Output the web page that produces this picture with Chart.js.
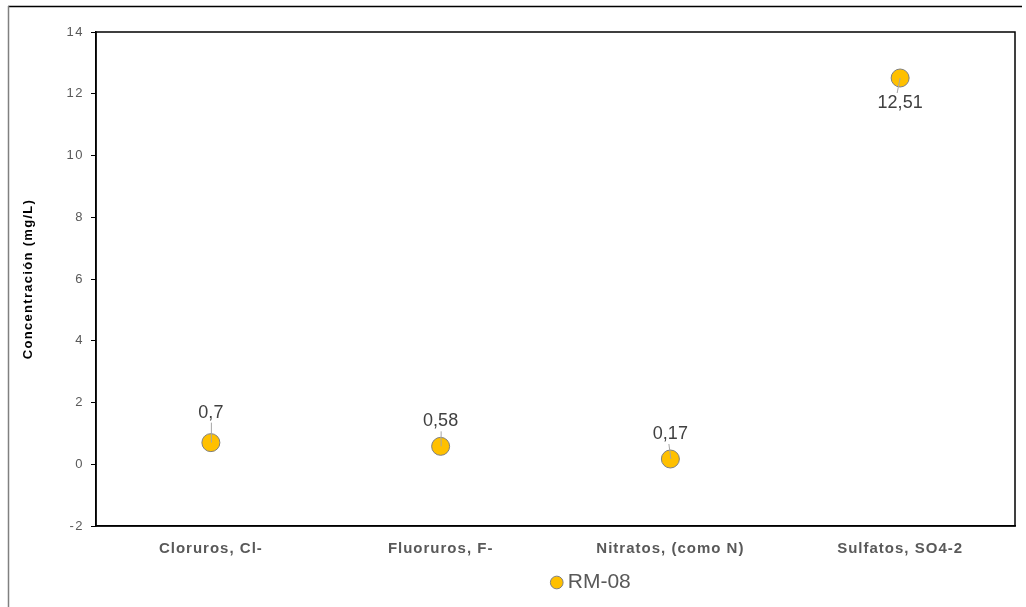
<!DOCTYPE html>
<html>
<head>
<meta charset="utf-8">
<script src="https://cdn.jsdelivr.net/npm/chart.js@4/dist/chart.umd.min.js"></script>
<style>
  html, body { margin: 0; padding: 0; background: #ffffff; }
  #wrap { width: 1026px; height: 607px; position: relative; }
</style>
</head>
<body>
<div id="wrap"><canvas id="c" width="1026" height="607"></canvas></div>
<script>
// Parameters measured at station RM-08
const categories = ['Cloruros, Cl-', 'Fluoruros, F-', 'Nitratos, (como N)', 'Sulfatos, SO4-2'];
const values = [0.7, 0.58, 0.17, 12.51];
const valueLabels = ['0,7', '0,58', '0,17', '12,51'];
const labelAbove = [true, true, true, false];
const seriesName = 'RM-08';
const yTicks = [-2, 0, 2, 4, 6, 8, 10, 12, 14];

const FONT = "'Liberation Sans', Arial, sans-serif";

// Wider character spacing for axis text
const axisSpacing = { x: '1px', y: '1.5px' };
const titleSpacing = '1.3px';

function withSpacing(fn, spacing) {
  return function (...args) {
    const ctx = this.ctx;
    const prev = ctx.letterSpacing;
    ctx.letterSpacing = spacing;
    fn.apply(this, args);
    ctx.letterSpacing = prev;
  };
}

const spacingPlugin = {
  id: 'axisSpacing',
  beforeLayout(chart) {
    Object.keys(axisSpacing).forEach(id => {
      const scale = chart.scales[id];
      if (!scale || scale._spaced) return;
      scale.drawLabels = withSpacing(scale.drawLabels, axisSpacing[id]);
      scale.drawTitle = withSpacing(scale.drawTitle, titleSpacing);
      scale._spaced = true;
    });
  },
  afterLayout(chart) {
    // legend sits under the right-hand half of the plot
    if (chart.legend) {
      chart.legend.left += 86;
      chart.legend.right += 86;
    }
  }
};

// Box around the plot area plus the outer chart frame
const framePlugin = {
  id: 'frame',
  beforeDraw(chart) {
    const ctx = chart.ctx;
    ctx.save();
    ctx.strokeStyle = '#000000';
    ctx.lineWidth = 1.5;
    ctx.beginPath();
    ctx.moveTo(8, 6.5);
    ctx.lineTo(1022, 6.5);
    ctx.stroke();
    ctx.strokeStyle = '#808080';
    ctx.beginPath();
    ctx.moveTo(8.5, 6);
    ctx.lineTo(8.5, 607);
    ctx.stroke();
    ctx.restore();
  },
  afterDatasetsDraw(chart) {
    const a = chart.chartArea;
    const ctx = chart.ctx;
    ctx.save();
    ctx.strokeStyle = '#000000';
    ctx.lineWidth = 1.5;
    ctx.strokeRect(a.left, a.top, a.right - a.left, a.bottom - a.top);
    ctx.restore();
  }
};

// Value labels with short leader lines
const valueLabelPlugin = {
  id: 'valueLabels',
  afterDatasetsDraw(chart) {
    const ctx = chart.ctx;
    const meta = chart.getDatasetMeta(0);
    ctx.save();
    ctx.font = '18px ' + FONT;
    ctx.fillStyle = '#404040';
    ctx.textAlign = 'center';
    ctx.textBaseline = 'middle';
    meta.data.forEach((pt, i) => {
      const x = pt.x, y = pt.y;
      const above = labelAbove[i];
      const off = i === 0 ? 30 : 25;
      const ty = above ? y - off : y + off;
      ctx.strokeStyle = '#A6A6A6';
      ctx.lineWidth = 1;
      ctx.beginPath();
      if (above) {
        ctx.moveTo(x + 0.5, y);
        ctx.lineTo(x + 0.5 - (i === 2 ? 2 : 0), ty + 10);
      } else {
        ctx.moveTo(x, y);
        ctx.lineTo(x - 3, ty - 10);
      }
      ctx.stroke();
      ctx.fillText(valueLabels[i], x, ty);
    });
    ctx.restore();
  }
};

new Chart(document.getElementById('c'), {
  type: 'line',
  data: {
    labels: categories,
    datasets: [{
      label: seriesName,
      data: values,
      showLine: false,
      pointRadius: 9,
      pointHoverRadius: 9,
      pointBackgroundColor: '#FFC000',
      pointBorderColor: '#7F7F7F',
      pointBorderWidth: 1,
      backgroundColor: '#FFC000',
      borderColor: '#7F7F7F',
      borderWidth: 1
    }]
  },
  options: {
    responsive: false,
    animation: false,
    layout: { padding: { left: 0, top: 32, right: 11, bottom: 4 } },
    plugins: {
      legend: {
        position: 'bottom',
        labels: {
          usePointStyle: true,
          pointStyle: 'circle',
          boxWidth: 1,
          boxHeight: 9,
          color: '#595959',
          font: { family: FONT, size: 21 },
          padding: 10
        }
      },
      tooltip: { enabled: false }
    },
    scales: {
      x: {
        type: 'category',
        offset: true,
        grid: { display: false, drawTicks: false },
        border: { display: true, color: '#000000', width: 1.5 },
        ticks: {
          color: '#595959',
          padding: 14,
          maxRotation: 0,
          autoSkip: false,
          font: { family: FONT, size: 15, weight: 'bold' }
        },
        afterFit(scale) { scale.height = 36; }
      },
      y: {
        min: -2,
        max: 14,
        afterBuildTicks(scale) { scale.ticks = yTicks.map(v => ({ value: v })); },
        grid: { drawOnChartArea: false, drawTicks: true, tickLength: 5, color: '#000000' },
        border: { display: true, color: '#000000', width: 1.5 },
        ticks: {
          color: '#595959',
          padding: 7,
          font: { family: FONT, size: 13 }
        },
        title: {
          display: true,
          text: 'Concentración (mg/L)',
          color: '#000000',
          padding: { top: 21, bottom: 0 },
          font: { family: FONT, size: 13, weight: 'bold' }
        },
        afterFit(scale) { scale.width = 96; }
      }
    }
  },
  plugins: [framePlugin, valueLabelPlugin, spacingPlugin]
});
</script>
</body>
</html>
